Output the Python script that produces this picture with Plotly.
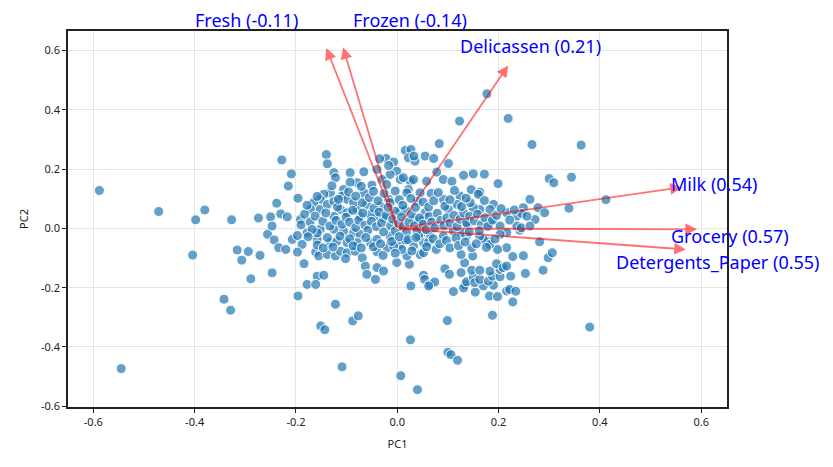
import plotly.graph_objects as go

# PCA scores (PC1, PC2)
left_tail = [(-0.588, 0.128), (-0.545, -0.473), (-0.471, 0.057), (-0.398, 0.029), (-0.380, 0.062),
             (-0.404, -0.090), (-0.327, 0.029), (-0.342, -0.239), (-0.329, -0.276), (-0.316, -0.073),
             (-0.307, -0.107), (-0.294, -0.078), (-0.289, -0.170), (-0.271, -0.091), (-0.274, 0.035),
             (-0.250, 0.039), (-0.247, -0.150), (-0.256, -0.020), (-0.247, 0.008), (-0.243, -0.039)]

upper_left = [(-0.228, 0.231), (-0.209, 0.184), (-0.215, 0.143), (-0.196, 0.102), (-0.238, 0.085),
              (-0.230, 0.049), (-0.217, 0.039), (-0.191, 0.030), (-0.140, 0.249), (-0.138, 0.218),
              (-0.125, 0.188), (-0.122, 0.171), (-0.093, 0.188), (-0.066, 0.191), (-0.050, 0.146),
              (-0.040, 0.199), (-0.022, 0.236), (-0.035, 0.235), (-0.007, 0.224), (-0.001, 0.193),
              (-0.014, 0.182), (-0.030, 0.165), (-0.004, 0.126), (-0.017, 0.098), (-0.033, 0.075),
              (-0.040, 0.041), (-0.060, 0.081), (-0.066, 0.120), (-0.079, 0.154), (-0.093, 0.156),
              (-0.106, 0.131), (-0.109, 0.109), (-0.099, 0.098), (-0.132, 0.120), (-0.145, 0.115),
              (-0.152, 0.098), (-0.165, 0.087), (-0.171, 0.064), (-0.152, 0.064), (-0.138, 0.081),
              (-0.125, 0.092), (-0.125, 0.041), (-0.112, 0.064), (-0.099, 0.053), (-0.079, 0.064),
              (-0.073, 0.039), (-0.053, 0.047), (-0.027, 0.036), (-0.086, 0.087), (-0.069, 0.087),
              (-0.017, 0.212), (0.006, 0.165), (0.026, 0.159), (0.022, 0.131), (0.045, 0.120),
              (0.058, 0.159)]

upper_right = [(0.083, 0.286), (0.266, 0.283), (0.016, 0.263), (0.027, 0.266), (0.022, 0.238),
               (0.035, 0.227), (0.033, 0.244), (0.055, 0.244), (0.072, 0.236), (0.101, 0.219),
               (0.078, 0.190), (0.091, 0.165), (0.108, 0.159), (0.131, 0.179), (0.150, 0.184),
               (0.172, 0.183), (0.199, 0.151), (0.146, 0.131), (0.163, 0.122), (0.160, 0.115),
               (0.300, 0.168), (0.309, 0.154), (0.262, 0.098), (0.278, 0.070), (0.291, 0.053),
               (0.272, 0.030), (0.249, 0.070), (0.236, 0.041), (0.216, 0.053), (0.190, 0.081),
               (0.183, 0.064), (0.163, 0.064), (0.150, 0.070), (0.144, 0.087), (0.124, 0.109),
               (0.118, 0.081), (0.101, 0.064), (0.091, 0.098), (0.094, 0.075), (0.067, 0.118),
               (0.039, 0.092), (0.055, 0.053), (0.049, 0.027), (0.032, 0.030), (0.006, 0.058),
               (0.016, 0.062), (-0.004, 0.058), (-0.014, 0.087), (0.019, 0.120), (0.012, 0.171),
               (0.032, 0.165), (0.177, 0.454), (0.123, 0.362), (0.219, 0.371), (0.363, 0.281),
               (0.344, 0.173), (0.412, 0.097), (0.339, 0.068), (0.246, 0.050), (0.242, -0.006)]

lower_left = [(-0.234, -0.065), (-0.220, -0.071), (-0.207, -0.037), (-0.197, -0.024), (-0.188, -0.054),
              (-0.178, -0.015), (-0.197, -0.080), (-0.184, -0.119), (-0.161, -0.080), (-0.155, -0.093),
              (-0.138, -0.088), (-0.122, -0.093), (-0.112, -0.077), (-0.099, -0.082), (-0.102, -0.102),
              (-0.083, -0.077), (-0.069, -0.099), (-0.063, -0.127), (-0.040, -0.132), (-0.043, -0.172),
              (-0.027, -0.144), (-0.060, -0.155), (-0.040, -0.079), (-0.020, -0.065), (-0.158, -0.161),
              (-0.145, -0.158), (-0.178, -0.189), (-0.161, -0.189), (-0.196, -0.228), (-0.122, -0.256),
              (-0.158, -0.037), (-0.152, -0.003), (-0.125, -0.003), (-0.106, -0.009), (-0.086, -0.015),
              (-0.073, -0.020), (-0.053, -0.048), (-0.040, -0.037), (-0.014, -0.026), (-0.132, -0.048),
              (-0.119, -0.043), (-0.099, -0.048), (-0.079, -0.048), (-0.158, -0.015), (-0.138, -0.031),
              (-0.088, -0.312), (-0.077, -0.295), (-0.151, -0.329), (-0.143, -0.342), (-0.109, -0.467)]

lower_right = [(0.007, -0.497), (0.040, -0.544), (0.026, -0.376), (0.027, -0.194), (-0.001, -0.115),
               (0.024, -0.121), (0.099, -0.311), (0.100, -0.418), (0.106, -0.426), (0.119, -0.445),
               (0.094, -0.136), (0.103, -0.155), (0.111, -0.213), (0.052, -0.158), (0.054, -0.172),
               (0.065, -0.189), (0.074, -0.181), (0.062, -0.194), (0.045, -0.088), (0.052, -0.082),
               (0.380, -0.333), (0.188, -0.293), (0.228, -0.248), (0.182, -0.228), (0.198, -0.230),
               (0.216, -0.211), (0.222, -0.206), (0.234, -0.212), (0.154, -0.215), (0.170, -0.194),
               (0.190, -0.192), (0.134, -0.190), (0.131, -0.201), (0.137, -0.180), (0.150, -0.164),
               (0.153, -0.183), (0.163, -0.172), (0.180, -0.178), (0.188, -0.161), (0.203, -0.163),
               (0.224, -0.161), (0.183, -0.144), (0.203, -0.138), (0.147, -0.141), (0.163, -0.141),
               (0.126, -0.149), (0.196, -0.119), (0.209, -0.132), (0.216, -0.127), (0.133, -0.116),
               (0.126, -0.088), (0.149, -0.093), (0.288, -0.141), (0.253, -0.152), (0.249, -0.092),
               (0.298, -0.099), (0.306, -0.082), (0.281, -0.045), (0.216, -0.065), (0.228, -0.095),
               (0.198, -0.071), (0.180, -0.043), (0.170, -0.037), (0.147, -0.065), (0.006, -0.054),
               (0.032, -0.060), (0.052, -0.048), (0.062, -0.046), (0.019, -0.093), (0.091, -0.026),
               (0.111, -0.009), (0.137, -0.024), (0.163, -0.026), (0.203, 0.008), (0.216, -0.014),
               (0.236, 0.008), (0.245, 0.002), (0.203, -0.020), (0.009, -0.071), (-0.007, -0.060),
               (0.016, -0.039), (0.049, -0.015), (0.042, -0.026), (0.065, -0.020), (0.127, -0.015),
               (0.138, 0.013), (0.183, 0.019), (0.183, -0.054)]

core = [(-0.190, 0.012), (-0.172, 0.022), (-0.168, -0.004), (-0.183, 0.048), (-0.162, 0.041),
        (-0.147, 0.024), (-0.141, 0.052), (-0.133, 0.008), (-0.121, 0.027), (-0.118, 0.072),
        (-0.109, 0.014), (-0.101, 0.038), (-0.094, 0.021), (-0.088, 0.061), (-0.082, 0.003),
        (-0.076, 0.028), (-0.068, 0.052), (-0.064, 0.011), (-0.058, -0.006), (-0.051, 0.024),
        (-0.046, 0.068), (-0.041, 0.006), (-0.036, 0.055), (-0.031, 0.018), (-0.027, -0.012),
        (-0.022, 0.044), (-0.018, 0.071), (-0.013, 0.009), (-0.009, 0.031), (-0.004, -0.008),
        (0.003, 0.016), (0.008, 0.039), (0.012, 0.005), (0.018, -0.013), (0.023, 0.022),
        (0.028, 0.048), (0.034, 0.009), (0.039, -0.006), (0.044, 0.035), (0.051, 0.014),
        (0.057, -0.004), (0.063, 0.041), (0.068, 0.021), (0.074, 0.002), (0.079, 0.051),
        (0.086, 0.027), (0.092, 0.009), (0.098, 0.036), (0.104, 0.018), (0.112, 0.044),
        (0.118, 0.006), (0.124, 0.031), (0.131, 0.052), (0.137, 0.019), (0.143, 0.041),
        (0.152, 0.026), (0.158, 0.048), (0.166, 0.012), (0.173, 0.036), (0.179, 0.007),
        (0.188, 0.028), (0.196, 0.044), (-0.176, -0.028), (-0.158, -0.056), (-0.146, -0.066),
        (-0.127, -0.063), (-0.113, -0.026), (-0.094, -0.035), (-0.087, -0.059), (-0.071, -0.066),
        (-0.062, -0.031), (-0.047, -0.062), (-0.033, -0.052), (-0.028, -0.091), (-0.011, -0.044),
        (-0.004, -0.084), (0.004, -0.028), (0.021, -0.038), (0.029, -0.076), (0.037, -0.031),
        (0.058, -0.062), (0.071, -0.035), (0.077, -0.071), (0.084, -0.052), (0.097, -0.041),
        (0.104, -0.066), (0.116, -0.032), (0.121, -0.058), (0.134, -0.046), (0.142, -0.012),
        (0.156, -0.052), (0.162, -0.008), (0.176, -0.064), (0.193, -0.036), (-0.178, 0.078),
        (-0.158, 0.108), (-0.129, 0.144), (-0.116, 0.098), (-0.096, 0.123), (-0.082, 0.109),
        (-0.071, 0.142), (-0.055, 0.104), (-0.047, 0.125), (-0.038, 0.093), (-0.026, 0.118),
        (-0.021, 0.148), (0.004, 0.097), (0.011, 0.078), (0.027, 0.101), (0.036, 0.071),
        (0.051, 0.089), (0.062, 0.072), (0.072, 0.093), (0.081, 0.121), (0.104, 0.097),
        (0.113, 0.128), (0.127, 0.074), (0.136, 0.102), (0.172, 0.094), (0.205, 0.067),
        (0.222, 0.028), (0.231, 0.062), (0.256, 0.041), (0.262, 0.008)]

# loading vectors (arrow tips) and the value shown in each label
features = ["Fresh", "Frozen", "Delicassen", "Milk", "Grocery", "Detergents_Paper"]
vec_pc1 = [-0.140, -0.107, 0.219, 0.562, 0.592, 0.570]
vec_pc2 = [0.609, 0.611, 0.550, 0.139, -0.003, -0.071]
label_vals = [-0.11, -0.14, 0.21, 0.54, 0.57, 0.55]

# where each label sits (data coords, some fall outside the axes)
label_pos = {
    "Fresh": (-0.297, 0.704),
    "Frozen": (0.025, 0.704),
    "Delicassen": (0.264, 0.617),
    "Milk": (0.625, 0.150),
    "Grocery": (0.657, -0.024),
    "Detergents_Paper": (0.633, -0.115),
}

x_range = [-0.65, 0.651]
y_range = [-0.6025, 0.666]

scores = left_tail + upper_left + upper_right + lower_left + lower_right + core
pc1 = [p[0] for p in scores]
pc2 = [p[1] for p in scores]

fig = go.Figure()
fig.add_trace(go.Scatter(
    x=pc1, y=pc2, mode="markers",
    marker=dict(size=10, color="rgba(31,119,180,0.7)", line=dict(color="white", width=1)),
    showlegend=False, hoverinfo="skip"))

annotations = []
for name, vx, vy, val in zip(features, vec_pc1, vec_pc2, label_vals):
    annotations.append(dict(
        x=vx, y=vy, ax=0, ay=0, xref="x", yref="y", axref="x", ayref="y",
        text="", showarrow=True, arrowhead=2, arrowsize=1.3, arrowwidth=1.8,
        arrowcolor="rgba(255,0,0,0.55)", standoff=0))
    # labels go in paper coords so the ones outside the axes are still drawn
    lx, ly = label_pos[name]
    px = (lx - x_range[0]) / (x_range[1] - x_range[0])
    py = (ly - y_range[0]) / (y_range[1] - y_range[0])
    annotations.append(dict(
        x=px, y=py, xref="paper", yref="paper", text=f"{name} ({val:.2f})", showarrow=False,
        xanchor="center", yanchor="middle",
        font=dict(family="Noto Sans", size=18, color="blue")))

axis_style = dict(showline=True, mirror=True, linecolor="#222", linewidth=1.5,
                  ticks="outside", ticklen=4, tickcolor="#222", showgrid=True,
                  gridcolor="#e6e6e6", gridwidth=1, zeroline=False,
                  tickfont=dict(family="Noto Sans", size=11, color="#222"))
ticks = [-0.6, -0.4, -0.2, 0.0, 0.2, 0.4, 0.6]
tick_text = ["-0.6", "-0.4", "-0.2", "0.0", "0.2", "0.4", "0.6"]

fig.update_layout(
    width=833, height=467,
    margin=dict(l=60, r=114, t=23, b=68),
    plot_bgcolor="white", paper_bgcolor="white",
    annotations=annotations,
    xaxis=dict(range=x_range, tickvals=ticks, ticktext=tick_text,
               title=dict(text="PC1", font=dict(family="Noto Sans", size=11, color="#222"), standoff=12),
               **axis_style),
    yaxis=dict(range=y_range, tickvals=ticks, ticktext=tick_text,
               title=dict(text="PC2", font=dict(family="Noto Sans", size=11, color="#222"), standoff=10),
               **axis_style),
)

fig.write_html("out.html")
